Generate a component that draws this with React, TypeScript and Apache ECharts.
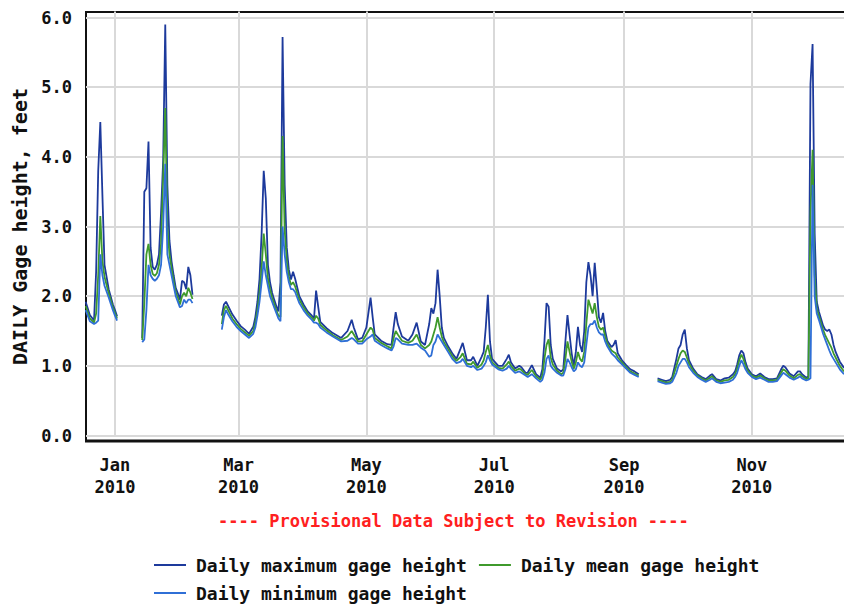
import React, { useEffect, useRef } from "react";
import * as echarts from "echarts";

// Daily gage height, feet
const dates = [
  "2009-12-18", "2009-12-20", "2009-12-22", "2009-12-23", "2009-12-24", "2009-12-25", "2009-12-26", "2009-12-27", "2009-12-29", "2009-12-31",
  "2010-01-01", "2010-01-02", "2010-01-08", "2010-01-14", "2010-01-15", "2010-01-16", "2010-01-17", "2010-01-18", "2010-01-19", "2010-01-20",
  "2010-01-21", "2010-01-22", "2010-01-23", "2010-01-24", "2010-01-25", "2010-01-26", "2010-01-27", "2010-01-28", "2010-01-29", "2010-01-30",
  "2010-01-31", "2010-02-01", "2010-02-02", "2010-02-03", "2010-02-04", "2010-02-05", "2010-02-06", "2010-02-07", "2010-02-14", "2010-02-21",
  "2010-02-22", "2010-02-23", "2010-02-24", "2010-02-26", "2010-02-28", "2010-03-02", "2010-03-04", "2010-03-06", "2010-03-08", "2010-03-09",
  "2010-03-10", "2010-03-11", "2010-03-12", "2010-03-13", "2010-03-14", "2010-03-15", "2010-03-16", "2010-03-17", "2010-03-18", "2010-03-19",
  "2010-03-20", "2010-03-21", "2010-03-22", "2010-03-23", "2010-03-24", "2010-03-25", "2010-03-26", "2010-03-27", "2010-03-28", "2010-03-30",
  "2010-04-01", "2010-04-03", "2010-04-05", "2010-04-06", "2010-04-07", "2010-04-08", "2010-04-09", "2010-04-12", "2010-04-15", "2010-04-19",
  "2010-04-22", "2010-04-24", "2010-04-25", "2010-04-27", "2010-04-29", "2010-05-01", "2010-05-03", "2010-05-04", "2010-05-05", "2010-05-08",
  "2010-05-11", "2010-05-13", "2010-05-14", "2010-05-15", "2010-05-16", "2010-05-18", "2010-05-21", "2010-05-23", "2010-05-25", "2010-05-27",
  "2010-05-29", "2010-05-31", "2010-06-01", "2010-06-02", "2010-06-03", "2010-06-04", "2010-06-05", "2010-06-06", "2010-06-07", "2010-06-09",
  "2010-06-11", "2010-06-13", "2010-06-15", "2010-06-16", "2010-06-18", "2010-06-20", "2010-06-21", "2010-06-23", "2010-06-25", "2010-06-26",
  "2010-06-27", "2010-06-28", "2010-06-29", "2010-06-30", "2010-07-03", "2010-07-05", "2010-07-07", "2010-07-08", "2010-07-09", "2010-07-11",
  "2010-07-13", "2010-07-14", "2010-07-16", "2010-07-17", "2010-07-19", "2010-07-21", "2010-07-23", "2010-07-24", "2010-07-25", "2010-07-26",
  "2010-07-27", "2010-07-28", "2010-07-29", "2010-07-31", "2010-08-02", "2010-08-03", "2010-08-04", "2010-08-05", "2010-08-06", "2010-08-07",
  "2010-08-08", "2010-08-09", "2010-08-10", "2010-08-11", "2010-08-12", "2010-08-13", "2010-08-14", "2010-08-15", "2010-08-16", "2010-08-17",
  "2010-08-18", "2010-08-19", "2010-08-20", "2010-08-21", "2010-08-22", "2010-08-23", "2010-08-24", "2010-08-26", "2010-08-27", "2010-08-28",
  "2010-08-29", "2010-08-31", "2010-09-02", "2010-09-04", "2010-09-06", "2010-09-08", "2010-09-12", "2010-09-17", "2010-09-19", "2010-09-21",
  "2010-09-23", "2010-09-24", "2010-09-26", "2010-09-27", "2010-09-28", "2010-09-29", "2010-09-30", "2010-10-01", "2010-10-02", "2010-10-04",
  "2010-10-06", "2010-10-08", "2010-10-10", "2010-10-12", "2010-10-13", "2010-10-15", "2010-10-17", "2010-10-19", "2010-10-21", "2010-10-23",
  "2010-10-24", "2010-10-25", "2010-10-26", "2010-10-27", "2010-10-28", "2010-10-29", "2010-10-30", "2010-11-01", "2010-11-03", "2010-11-05",
  "2010-11-07", "2010-11-09", "2010-11-11", "2010-11-13", "2010-11-15", "2010-11-16", "2010-11-17", "2010-11-19", "2010-11-21", "2010-11-23",
  "2010-11-24", "2010-11-25", "2010-11-27", "2010-11-28", "2010-11-29", "2010-11-30", "2010-12-01", "2010-12-02", "2010-12-03", "2010-12-04",
  "2010-12-05", "2010-12-06", "2010-12-07", "2010-12-08", "2010-12-09", "2010-12-10", "2010-12-11", "2010-12-13", "2010-12-15",
];

const maxVals = [
  1.92, 1.73, 1.65, 2.35, 3.80, 4.50, 3.45, 2.45, 2.10, 1.88,
  1.80, 1.71, null, 1.40, 3.50, 3.55, 4.22, 2.70, 2.42, 2.38,
  2.45, 2.60, 3.20, 3.95, 5.90, 3.60, 2.80, 2.50, 2.30, 2.12,
  2.04, 1.95, 2.22, 2.20, 2.10, 2.42, 2.30, 2.02, null, 1.72,
  1.88, 1.92, 1.86, 1.74, 1.65, 1.57, 1.52, 1.46, 1.56, 1.70,
  1.92, 2.25, 2.90, 3.80, 3.40, 2.45, 2.20, 2.05, 1.95, 1.86,
  1.78, 2.20, 5.72, 3.60, 2.70, 2.38, 2.24, 2.35, 2.25, 2.00,
  1.88, 1.78, 1.72, 1.68, 2.08, 1.85, 1.63, 1.54, 1.47, 1.40,
  1.50, 1.66, 1.55, 1.38, 1.40, 1.55, 1.98, 1.70, 1.45, 1.36,
  1.31, 1.30, 1.55, 1.77, 1.60, 1.42, 1.36, 1.45, 1.62, 1.35,
  1.30, 1.60, 1.83, 1.75, 1.90, 2.38, 2.00, 1.55, 1.40, 1.28,
  1.18, 1.10, 1.25, 1.33, 1.08, 1.08, 1.13, 1.00, 1.13, 1.20,
  1.55, 2.02, 1.35, 1.10, 1.00, 1.00, 1.10, 1.16, 1.05, 0.96,
  1.00, 0.98, 0.90, 0.90, 1.01, 0.88, 0.83, 0.95, 1.35, 1.90,
  1.85, 1.30, 1.10, 0.96, 0.92, 0.95, 1.35, 1.73, 1.45, 1.18,
  1.00, 1.20, 1.56, 1.30, 1.20, 1.50, 2.20, 2.49, 2.30, 2.00,
  2.48, 2.10, 1.70, 1.62, 1.76, 1.50, 1.36, 1.27, 1.30, 1.37,
  1.18, 1.08, 1.01, 0.95, 0.92, 0.88, null, 0.82, 0.80, 0.78,
  0.80, 0.84, 1.10, 1.25, 1.30, 1.45, 1.52, 1.25, 1.08, 0.96,
  0.88, 0.84, 0.81, 0.86, 0.88, 0.81, 0.79, 0.82, 0.83, 0.88,
  0.92, 1.02, 1.15, 1.22, 1.18, 1.05, 0.96, 0.88, 0.85, 0.89,
  0.84, 0.81, 0.81, 0.82, 0.95, 1.00, 0.98, 0.89, 0.85, 0.92,
  0.92, 0.88, 0.83, 0.85, 5.05, 5.62, 2.90, 1.92, 1.78, 1.68,
  1.58, 1.52, 1.50, 1.52, 1.45, 1.30, 1.20, 1.06, 0.97,
];

const meanVals = [
  1.86, 1.68, 1.62, 1.75, 2.30, 3.15, 2.50, 2.28, 2.04, 1.84,
  1.76, 1.68, null, 1.37, 1.90, 2.60, 2.75, 2.45, 2.32, 2.29,
  2.33, 2.45, 2.75, 3.70, 4.70, 3.00, 2.60, 2.40, 2.22, 2.06,
  1.98, 1.88, 2.00, 2.05, 2.00, 2.12, 2.05, 1.96, null, 1.60,
  1.80, 1.86, 1.80, 1.68, 1.60, 1.53, 1.48, 1.43, 1.50, 1.62,
  1.80, 2.05, 2.40, 2.90, 2.60, 2.25, 2.10, 1.98, 1.89, 1.80,
  1.72, 1.70, 4.30, 2.95, 2.50, 2.28, 2.16, 2.20, 2.14, 1.95,
  1.84, 1.75, 1.69, 1.65, 1.72, 1.68, 1.59, 1.51, 1.44, 1.37,
  1.42, 1.50, 1.45, 1.35, 1.35, 1.45, 1.55, 1.52, 1.40, 1.33,
  1.28, 1.25, 1.40, 1.50, 1.45, 1.36, 1.33, 1.36, 1.45, 1.30,
  1.25, 1.30, 1.35, 1.45, 1.55, 1.70, 1.55, 1.42, 1.34, 1.24,
  1.14, 1.07, 1.13, 1.18, 1.03, 1.02, 1.06, 0.97, 1.02, 1.08,
  1.20, 1.30, 1.15, 1.05, 0.97, 0.96, 1.02, 1.06, 1.00, 0.93,
  0.96, 0.94, 0.88, 0.87, 0.94, 0.85, 0.80, 0.86, 1.10, 1.30,
  1.38, 1.12, 1.02, 0.93, 0.88, 0.90, 1.10, 1.35, 1.20, 1.06,
  0.96, 1.05, 1.20, 1.10, 1.06, 1.20, 1.60, 1.95, 1.85, 1.75,
  1.90, 1.70, 1.56, 1.52, 1.55, 1.42, 1.32, 1.22, 1.20, 1.18,
  1.12, 1.05, 0.98, 0.92, 0.89, 0.86, null, 0.80, 0.78, 0.76,
  0.77, 0.80, 1.00, 1.10, 1.18, 1.22, 1.20, 1.12, 1.03, 0.93,
  0.86, 0.82, 0.79, 0.83, 0.85, 0.79, 0.77, 0.79, 0.80, 0.84,
  0.88, 0.96, 1.08, 1.16, 1.10, 1.00, 0.93, 0.86, 0.83, 0.86,
  0.82, 0.79, 0.79, 0.80, 0.90, 0.95, 0.93, 0.86, 0.82, 0.87,
  0.88, 0.85, 0.81, 0.82, 3.20, 4.10, 2.30, 1.82, 1.72, 1.62,
  1.52, 1.44, 1.38, 1.32, 1.26, 1.18, 1.12, 1.00, 0.92,
];

const minVals = [
  1.80, 1.64, 1.60, 1.62, 1.65, 2.60, 2.30, 2.15, 1.98, 1.80,
  1.72, 1.65, null, 1.34, 1.38, 1.80, 2.45, 2.30, 2.25, 2.22,
  2.25, 2.30, 2.45, 3.00, 3.90, 2.60, 2.45, 2.30, 2.15, 2.00,
  1.92, 1.84, 1.86, 1.95, 1.90, 1.95, 1.95, 1.90, null, 1.52,
  1.70, 1.80, 1.74, 1.64, 1.56, 1.50, 1.45, 1.40, 1.46, 1.55,
  1.72, 1.92, 2.20, 2.50, 2.30, 2.15, 2.00, 1.92, 1.84, 1.76,
  1.68, 1.64, 3.00, 2.60, 2.35, 2.20, 2.10, 2.10, 2.06, 1.90,
  1.80, 1.72, 1.66, 1.62, 1.62, 1.60, 1.55, 1.48, 1.42, 1.35,
  1.36, 1.40, 1.38, 1.32, 1.32, 1.38, 1.42, 1.45, 1.36, 1.30,
  1.25, 1.22, 1.28, 1.40, 1.38, 1.32, 1.30, 1.30, 1.32, 1.26,
  1.22, 1.13, 1.15, 1.30, 1.35, 1.45, 1.40, 1.35, 1.30, 1.20,
  1.10, 1.04, 1.06, 1.10, 1.00, 0.98, 1.00, 0.94, 0.96, 1.00,
  1.05, 1.15, 1.08, 1.02, 0.95, 0.93, 0.96, 1.00, 0.96, 0.90,
  0.92, 0.90, 0.86, 0.84, 0.88, 0.82, 0.77, 0.80, 0.90, 1.10,
  1.15, 1.00, 0.96, 0.90, 0.86, 0.86, 0.95, 1.10, 1.05, 0.98,
  0.92, 0.95, 1.05, 1.00, 0.98, 1.05, 1.30, 1.55, 1.60, 1.60,
  1.65, 1.55, 1.48, 1.45, 1.45, 1.35, 1.28, 1.18, 1.15, 1.12,
  1.08, 1.02, 0.96, 0.90, 0.87, 0.84, null, 0.78, 0.76, 0.74,
  0.75, 0.77, 0.90, 1.00, 1.05, 1.10, 1.10, 1.05, 0.98, 0.90,
  0.84, 0.80, 0.77, 0.80, 0.82, 0.77, 0.75, 0.76, 0.77, 0.80,
  0.84, 0.90, 1.00, 1.08, 1.02, 0.95, 0.90, 0.84, 0.81, 0.83,
  0.80, 0.77, 0.77, 0.78, 0.86, 0.90, 0.88, 0.83, 0.80, 0.83,
  0.85, 0.82, 0.79, 0.80, 0.82, 3.60, 2.00, 1.75, 1.66, 1.56,
  1.46, 1.38, 1.30, 1.22, 1.15, 1.10, 1.05, 0.95, 0.88,
];

const tickDates = ["2010-01-01", "2010-03-01", "2010-05-01", "2010-07-01", "2010-09-01", "2010-11-01"];
const tickMonths = ["Jan", "Mar", "May", "Jul", "Sep", "Nov"];
const tickYears = ["2010", "2010", "2010", "2010", "2010", "2010"];
const axisStart = "2009-12-18 04:00:00";
const axisEnd = "2010-12-15 00:00:00";

const seriesNames = ["Daily maximum gage height", "Daily mean gage height", "Daily minimum gage height"];
const seriesColors = ["#1d3a9c", "#3f9a2c", "#2f6fd6"];

const FONT = "'DejaVu Sans Mono', 'Liberation Mono', monospace";

const t = (d: string) => echarts.time.parse(d).getTime();

const toData = (vals: (number | null)[]) =>
  dates.map((d, i) => [t(d), vals[i] === null ? "-" : vals[i]]);

export default function App() {
  const ref = useRef<HTMLDivElement>(null);

  useEffect(() => {
    if (!ref.current) return;
    const chart = echarts.init(ref.current, undefined, { renderer: "svg" });
    const tickTimes = tickDates.map(t);

    const valueSets = [maxVals, meanVals, minVals];
    const legendText = { fontSize: 18, fontWeight: "bold", fontFamily: FONT, color: "#111", padding: [0, 0, 0, 5] };

    chart.setOption({
      animation: false,
      backgroundColor: "#ffffff",
      title: {
        text: "---- Provisional Data Subject to Revision ----",
        left: 213,
        top: 507,
        textStyle: { color: "#ff2020", fontSize: 17, fontWeight: "bold", fontFamily: FONT },
      },
      legend: [
        {
          data: [seriesNames[0], seriesNames[1]],
          left: 154,
          top: 556,
          padding: 0,
          icon: "rect",
          itemWidth: 32,
          itemHeight: 2,
          itemGap: 12,
          textStyle: legendText,
        },
        {
          data: [seriesNames[2]],
          left: 154,
          top: 584,
          padding: 0,
          icon: "rect",
          itemWidth: 32,
          itemHeight: 2,
          textStyle: legendText,
        },
      ],
      grid: {
        left: 86,
        right: 0,
        top: 17.5,
        bottom: 169.5,
        containLabel: false,
        outerBoundsMode: "none",
      },
      xAxis: {
        type: "value",
        min: t(axisStart),
        max: t(axisEnd),
        axisLine: { show: false },
        splitLine: { show: false },
        axisTick: {
          show: true,
          customValues: tickTimes,
          inside: true,
          length: 424,
          lineStyle: { color: "#d9d9d9", width: 2 },
        },
        axisLabel: {
          customValues: tickTimes,
          margin: 18,
          lineHeight: 22,
          fontSize: 17,
          fontWeight: "bold",
          fontFamily: FONT,
          color: "#111",
          formatter: (v: number) => {
            const i = tickTimes.indexOf(v);
            return i >= 0 ? tickMonths[i] + "\n" + tickYears[i] : "";
          },
        },
      },
      yAxis: {
        type: "value",
        min: 0,
        max: 6,
        interval: 1,
        name: "DAILY Gage height, feet",
        nameLocation: "middle",
        nameRotate: 90,
        nameGap: 53,
        nameTextStyle: { fontSize: 20, fontWeight: "bold", fontFamily: FONT, color: "#111" },
        axisLine: { show: false },
        axisTick: { show: false },
        axisLabel: {
          margin: 14,
          fontSize: 17,
          fontWeight: "bold",
          fontFamily: FONT,
          color: "#111",
          formatter: (v: number) => v.toFixed(1),
        },
        splitLine: { lineStyle: { color: "#d9d9d9", width: 2 } },
      },
      series: seriesNames.map((name, k) => ({
        name,
        type: "line",
        symbol: "none",
        showSymbol: false,
        connectNulls: false,
        color: seriesColors[k],
        lineStyle: { color: seriesColors[k], width: 1.8 },
        data: toData(valueSets[k]),
      })),
      graphic: [
        { type: "line", shape: { x1: 86, y1: 12, x2: 844, y2: 12 }, style: { stroke: "#111", lineWidth: 2 }, silent: true },
        { type: "line", shape: { x1: 86, y1: 11, x2: 86, y2: 442 }, style: { stroke: "#111", lineWidth: 2 }, silent: true },
        { type: "line", shape: { x1: 85, y1: 441, x2: 844, y2: 441 }, style: { stroke: "#111", lineWidth: 3 }, silent: true },
      ],
    });

    return () => chart.dispose();
  }, []);

  return (
    <div
      ref={ref}
      style={{ position: "absolute", left: 0, top: 0, width: 844, height: 605, background: "#fff" }}
    />
  );
}
